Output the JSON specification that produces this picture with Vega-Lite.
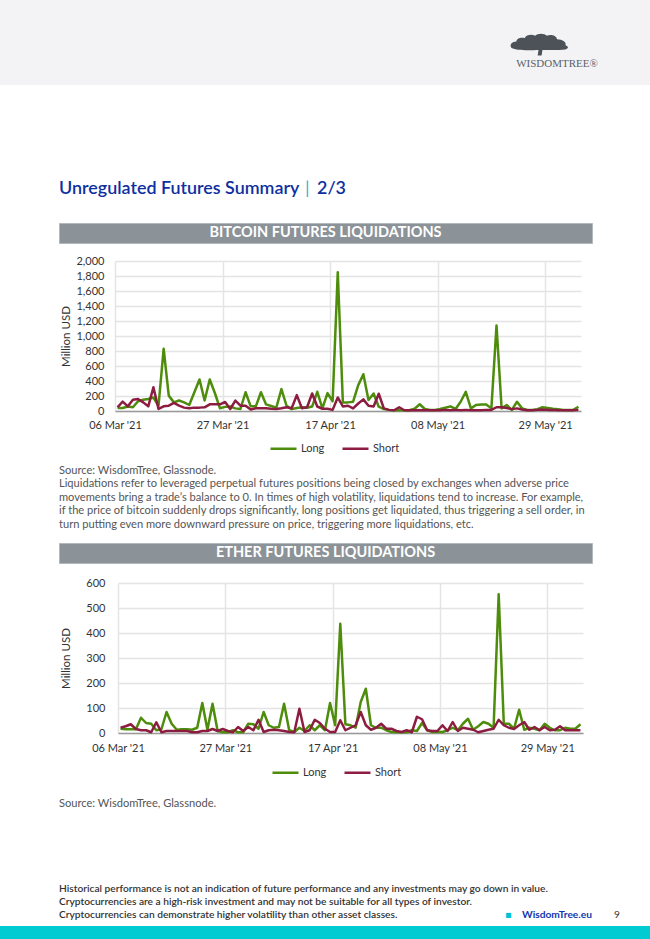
{
  "$schema": "https://vega.github.io/schema/vega-lite/v6.json",
  "padding": 0,
  "background": "#ffffff",
  "spacing": 0,
  "resolve": {"scale": {"color": "independent"}, "legend": {"color": "independent"}},
  "config": {
    "view": {"stroke": null},
    "font": "Lato",
    "title": {"font": "Lato", "offset": 0, "anchor": "start", "frame": "group"},
    "axis": {"labelFont": "Lato", "titleFont": "Lato"},
    "legend": {"labelFont": "Lato"},
    "concat": {"spacing": 0},
    "text": {"font": "Lato"}
  },
  "datasets": {
    "none": [],
    "btc": [
      {"date":"2021-03-06","Long":40,"Short":50},{"date":"2021-03-07","Long":40,"Short":125},{"date":"2021-03-08","Long":60,"Short":62},{"date":"2021-03-09","Long":50,"Short":150},{"date":"2021-03-10","Long":130,"Short":160},{"date":"2021-03-11","Long":150,"Short":115},{"date":"2021-03-12","Long":160,"Short":62},{"date":"2021-03-13","Long":180,"Short":316},{"date":"2021-03-14","Long":70,"Short":27},{"date":"2021-03-15","Long":830,"Short":62},
      {"date":"2021-03-16","Long":205,"Short":71},{"date":"2021-03-17","Long":115,"Short":107},{"date":"2021-03-18","Long":140,"Short":71},{"date":"2021-03-19","Long":115,"Short":45},{"date":"2021-03-20","Long":80,"Short":36},{"date":"2021-03-21","Long":250,"Short":45},{"date":"2021-03-22","Long":420,"Short":45},{"date":"2021-03-23","Long":140,"Short":49},{"date":"2021-03-24","Long":420,"Short":89},{"date":"2021-03-25","Long":240,"Short":89},
      {"date":"2021-03-26","Long":36,"Short":89},{"date":"2021-03-27","Long":55,"Short":120},{"date":"2021-03-28","Long":60,"Short":27},{"date":"2021-03-29","Long":35,"Short":138},{"date":"2021-03-30","Long":27,"Short":71},{"date":"2021-03-31","Long":250,"Short":71},{"date":"2021-04-01","Long":62,"Short":20},{"date":"2021-04-02","Long":62,"Short":36},{"date":"2021-04-03","Long":250,"Short":36},{"date":"2021-04-04","Long":88,"Short":36},
      {"date":"2021-04-05","Long":66,"Short":30},{"date":"2021-04-06","Long":44,"Short":27},{"date":"2021-04-07","Long":292,"Short":36},{"date":"2021-04-08","Long":70,"Short":50},{"date":"2021-04-09","Long":25,"Short":36},{"date":"2021-04-10","Long":40,"Short":212},{"date":"2021-04-11","Long":50,"Short":36},{"date":"2021-04-12","Long":44,"Short":50},{"date":"2021-04-13","Long":60,"Short":234},{"date":"2021-04-14","Long":256,"Short":60},
      {"date":"2021-04-15","Long":35,"Short":30},{"date":"2021-04-16","Long":239,"Short":30},{"date":"2021-04-17","Long":130,"Short":15},{"date":"2021-04-18","Long":1850,"Short":181},{"date":"2021-04-19","Long":115,"Short":60},{"date":"2021-04-20","Long":115,"Short":70},{"date":"2021-04-21","Long":124,"Short":35},{"date":"2021-04-22","Long":345,"Short":100},{"date":"2021-04-23","Long":490,"Short":155},{"date":"2021-04-24","Long":146,"Short":70},
      {"date":"2021-04-25","Long":234,"Short":60},{"date":"2021-04-26","Long":57,"Short":230},{"date":"2021-04-27","Long":25,"Short":35},{"date":"2021-04-28","Long":15,"Short":15},{"date":"2021-04-29","Long":10,"Short":10},{"date":"2021-04-30","Long":10,"Short":50},{"date":"2021-05-01","Long":10,"Short":10},{"date":"2021-05-02","Long":10,"Short":10},{"date":"2021-05-03","Long":30,"Short":10},{"date":"2021-05-04","Long":90,"Short":10},
      {"date":"2021-05-05","Long":27,"Short":10},{"date":"2021-05-06","Long":13,"Short":10},{"date":"2021-05-07","Long":13,"Short":10},{"date":"2021-05-08","Long":27,"Short":10},{"date":"2021-05-09","Long":44,"Short":15},{"date":"2021-05-10","Long":62,"Short":10},{"date":"2021-05-11","Long":27,"Short":15},{"date":"2021-05-12","Long":124,"Short":10},{"date":"2021-05-13","Long":256,"Short":15},{"date":"2021-05-14","Long":35,"Short":10},
      {"date":"2021-05-15","Long":80,"Short":10},{"date":"2021-05-16","Long":88,"Short":10},{"date":"2021-05-17","Long":88,"Short":15},{"date":"2021-05-18","Long":35,"Short":15},{"date":"2021-05-19","Long":1140,"Short":50},{"date":"2021-05-20","Long":35,"Short":50},{"date":"2021-05-21","Long":80,"Short":40},{"date":"2021-05-22","Long":13,"Short":25},{"date":"2021-05-23","Long":124,"Short":35},{"date":"2021-05-24","Long":35,"Short":20},
      {"date":"2021-05-25","Long":13,"Short":10},{"date":"2021-05-26","Long":13,"Short":10},{"date":"2021-05-27","Long":25,"Short":15},{"date":"2021-05-28","Long":50,"Short":20},{"date":"2021-05-29","Long":40,"Short":15},{"date":"2021-05-30","Long":30,"Short":15},{"date":"2021-05-31","Long":25,"Short":10},{"date":"2021-06-01","Long":15,"Short":10},{"date":"2021-06-02","Long":15,"Short":10},{"date":"2021-06-03","Long":15,"Short":10},
      {"date":"2021-06-04","Long":57,"Short":15}
    ],
    "eth": [
      {"date":"2021-03-06","Long":17,"Short":21},{"date":"2021-03-07","Long":15,"Short":27},{"date":"2021-03-08","Long":15,"Short":35},{"date":"2021-03-09","Long":15,"Short":16},{"date":"2021-03-10","Long":61,"Short":11},{"date":"2021-03-11","Long":40,"Short":11},{"date":"2021-03-12","Long":37,"Short":3},{"date":"2021-03-13","Long":11,"Short":43},{"date":"2021-03-14","Long":15,"Short":3},{"date":"2021-03-15","Long":84,"Short":8},
      {"date":"2021-03-16","Long":37,"Short":8},{"date":"2021-03-17","Long":13,"Short":8},{"date":"2021-03-18","Long":15,"Short":8},{"date":"2021-03-19","Long":15,"Short":8},{"date":"2021-03-20","Long":13,"Short":3},{"date":"2021-03-21","Long":21,"Short":3},{"date":"2021-03-22","Long":120,"Short":8},{"date":"2021-03-23","Long":13,"Short":8},{"date":"2021-03-24","Long":117,"Short":16},{"date":"2021-03-25","Long":8,"Short":8},
      {"date":"2021-03-26","Long":3,"Short":16},{"date":"2021-03-27","Long":3,"Short":8},{"date":"2021-03-28","Long":11,"Short":3},{"date":"2021-03-29","Long":3,"Short":24},{"date":"2021-03-30","Long":3,"Short":8},{"date":"2021-03-31","Long":37,"Short":24},{"date":"2021-04-01","Long":35,"Short":11},{"date":"2021-04-02","Long":17,"Short":53},{"date":"2021-04-03","Long":84,"Short":4},{"date":"2021-04-04","Long":31,"Short":11},
      {"date":"2021-04-05","Long":21,"Short":13},{"date":"2021-04-06","Long":24,"Short":11},{"date":"2021-04-07","Long":117,"Short":8},{"date":"2021-04-08","Long":11,"Short":4},{"date":"2021-04-09","Long":4,"Short":3},{"date":"2021-04-10","Long":21,"Short":97},{"date":"2021-04-11","Long":8,"Short":4},{"date":"2021-04-12","Long":31,"Short":11},{"date":"2021-04-13","Long":11,"Short":53},{"date":"2021-04-14","Long":31,"Short":40},
      {"date":"2021-04-15","Long":11,"Short":17},{"date":"2021-04-16","Long":120,"Short":4},{"date":"2021-04-17","Long":31,"Short":4},{"date":"2021-04-18","Long":437,"Short":51},{"date":"2021-04-19","Long":35,"Short":11},{"date":"2021-04-20","Long":31,"Short":21},{"date":"2021-04-21","Long":21,"Short":31},{"date":"2021-04-22","Long":124,"Short":84},{"date":"2021-04-23","Long":177,"Short":31},{"date":"2021-04-24","Long":31,"Short":13},
      {"date":"2021-04-25","Long":21,"Short":21},{"date":"2021-04-26","Long":21,"Short":37},{"date":"2021-04-27","Long":11,"Short":17},{"date":"2021-04-28","Long":4,"Short":17},{"date":"2021-04-29","Long":3,"Short":8},{"date":"2021-04-30","Long":3,"Short":4},{"date":"2021-05-01","Long":3,"Short":11},{"date":"2021-05-02","Long":11,"Short":3},{"date":"2021-05-03","Long":8,"Short":65},{"date":"2021-05-04","Long":40,"Short":55},
      {"date":"2021-05-05","Long":11,"Short":11},{"date":"2021-05-06","Long":4,"Short":8},{"date":"2021-05-07","Long":4,"Short":8},{"date":"2021-05-08","Long":4,"Short":31},{"date":"2021-05-09","Long":11,"Short":8},{"date":"2021-05-10","Long":21,"Short":44},{"date":"2021-05-11","Long":11,"Short":8},{"date":"2021-05-12","Long":37,"Short":21},{"date":"2021-05-13","Long":57,"Short":17},{"date":"2021-05-14","Long":13,"Short":13},
      {"date":"2021-05-15","Long":27,"Short":3},{"date":"2021-05-16","Long":44,"Short":8},{"date":"2021-05-17","Long":37,"Short":13},{"date":"2021-05-18","Long":21,"Short":17},{"date":"2021-05-19","Long":555,"Short":53},{"date":"2021-05-20","Long":37,"Short":31},{"date":"2021-05-21","Long":37,"Short":21},{"date":"2021-05-22","Long":17,"Short":16},{"date":"2021-05-23","Long":93,"Short":31},{"date":"2021-05-24","Long":13,"Short":44},
      {"date":"2021-05-25","Long":21,"Short":13},{"date":"2021-05-26","Long":17,"Short":24},{"date":"2021-05-27","Long":11,"Short":11},{"date":"2021-05-28","Long":37,"Short":24},{"date":"2021-05-29","Long":21,"Short":11},{"date":"2021-05-30","Long":11,"Short":13},{"date":"2021-05-31","Long":11,"Short":27},{"date":"2021-06-01","Long":21,"Short":11},{"date":"2021-06-02","Long":17,"Short":11},{"date":"2021-06-03","Long":17,"Short":11},
      {"date":"2021-06-04","Long":35,"Short":11}
    ]
  },
  "vconcat": [
    {
      "spacing": 0,
      "hconcat": [
        {"width": 490, "height": 85, "view": {"fill": "#f3f3f5", "stroke": null}, "data": {"name": "none"}, "mark": "point"},
        {"width": 134, "height": 85, "view": {"fill": "#f3f3f5", "stroke": null},
         "data": {"values": [{"logo": "tree"}]},
         "mark": {"type": "point", "shape": "M-1.62,0.2 C-1.72,0.08 -1.6,-0.04 -1.45,-0.04 C-1.45,-0.14 -1.3,-0.2 -1.15,-0.16 C-1.1,-0.28 -0.9,-0.3 -0.78,-0.24 C-0.7,-0.34 -0.45,-0.34 -0.36,-0.24 C-0.22,-0.3 -0.02,-0.24 0.0,-0.12 C0.2,-0.12 0.36,0.0 0.3,0.1 C0.42,0.14 0.42,0.22 0.3,0.25 C0.1,0.28 -0.3,0.27 -0.52,0.27 L-0.55,0.46 L-0.69,0.46 L-0.66,0.27 C-0.95,0.28 -1.45,0.3 -1.62,0.2 Z", "filled": true, "color": "#4c5258", "opacity": 1, "size": 3136, "strokeWidth": 0},
         "title": {"text": "WISDOMTREE®", "orient": "bottom", "anchor": "middle", "offset": -27, "fontSize": 11, "font": "Liberation Serif", "fontWeight": "normal", "color": "#5b6168"}},
        {"width": 26, "height": 85, "view": {"fill": "#f3f3f5", "stroke": null}, "data": {"name": "none"}, "mark": "point"}
      ]
    },
    {
      "spacing": 0,
      "hconcat": [
        {"width": 58, "height": 1, "data": {"name": "none"}, "mark": "point"},
        {
          "spacing": 0,
          "resolve": {"scale": {"color": "independent"}, "legend": {"color": "independent"}},
          "vconcat": [
            {"width": 1, "height": 95, "data": {"name": "none"}, "mark": "point"},
            {
              "spacing": 0,
              "hconcat": [
                {"width": 246, "height": 1, "data": {"name": "none"}, "mark": "point", "title": {"text": "Unregulated Futures Summary", "fontSize": 17.9, "fontWeight": 600, "color": "#0e2f9f"}},
                {"width": 12, "height": 1, "data": {"name": "none"}, "mark": "point", "title": {"text": "|", "fontSize": 17.9, "fontWeight": "normal", "color": "#00c2d4"}},
                {"width": 34, "height": 1, "data": {"name": "none"}, "mark": "point", "title": {"text": "2/3", "fontSize": 17.9, "fontWeight": 600, "color": "#0e2f9f"}}
              ]
            },
            {"width": 1, "height": 19, "data": {"name": "none"}, "mark": "point"},
            {"width": 533, "height": 20, "view": {"fill": "#8b9298", "stroke": "#b2b7bb", "strokeWidth": 1},
             "data": {"values": [{"label": "BITCOIN FUTURES LIQUIDATIONS"}]},
             "mark": {"type": "text", "color": "#ffffff", "fontSize": 14.5, "fontWeight": "bold", "font": "Lato"},
             "encoding": {"text": {"field": "label", "type": "nominal"}}},
            {"width": 1, "height": 11, "data": {"name": "none"}, "mark": "point"},
            {
              "spacing": 0,
              "resolve": {"scale": {"color": "independent"}, "legend": {"color": "independent"}},
              "hconcat": [
                {"width": 1, "height": 1, "data": {"name": "none"}, "mark": "point"},
                {
                  "width": 466, "height": 150,
                  "data": {"name": "btc"},
                  "transform": [{"fold": ["Long", "Short"], "as": ["series", "value"]}],
                  "mark": {"type": "line", "strokeWidth": 2.5, "strokeJoin": "round"},
                  "encoding": {
                    "x": {"field": "date", "type": "temporal",
                      "scale": {"type": "utc", "domain": [{"year": 2021, "month": 3, "date": 5, "hours": 12, "utc": true}, {"year": 2021, "month": 6, "date": 4, "hours": 12, "utc": true}]},
                      "axis": {"values": [{"year": 2021, "month": 3, "date": 5, "hours": 12, "utc": true}, {"year": 2021, "month": 3, "date": 26, "hours": 12, "utc": true}, {"year": 2021, "month": 4, "date": 16, "hours": 12, "utc": true}, {"year": 2021, "month": 5, "date": 7, "hours": 12, "utc": true}, {"year": 2021, "month": 5, "date": 28, "hours": 12, "utc": true}],
                        "labelExpr": "utcFormat(time(datum.value) + 43200000, \"%d %b '%y\")",
                        "title": null, "grid": true, "gridColor": "#e4e4e4", "gridWidth": 1.5, "domainColor": "#9a9a9a", "domainWidth": 1.5, "ticks": false, "tickSize": 0, "labelPadding": 8, "labelFontSize": 11, "labelColor": "#333333", "labelFlush": false, "labelOverlap": false}},
                    "y": {"field": "value", "type": "quantitative",
                      "scale": {"domain": [0, 2000], "nice": false},
                      "axis": {"values": [0, 200, 400, 600, 800, 1000, 1200, 1400, 1600, 1800, 2000], "format": ",.0f", "title": "Million USD", "titleFontSize": 11.5, "titleFontWeight": "normal", "titleColor": "#333333", "titlePadding": 4.5, "labelPadding": 11, "labelFontSize": 11, "labelColor": "#333333", "domain": false, "ticks": false, "tickSize": 0, "gridColor": "#e4e4e4", "gridWidth": 1.5}},
                    "color": {"field": "series", "type": "nominal",
                      "scale": {"domain": ["Long", "Short"], "range": ["#4e8c0c", "#8c1d40"]},
                      "legend": {"orient": "none", "legendX": 154, "legendY": 173, "direction": "horizontal", "title": null, "symbolType": "stroke", "symbolStrokeWidth": 2.5, "symbolSize": 676, "labelFontSize": 11, "labelColor": "#333333", "columnPadding": 12, "labelOffset": 3}}
                  }
                }
              ]
            },
            {"width": 1, "height": 10, "data": {"name": "none"}, "mark": "point"},
            {"width": 533, "height": 1, "data": {"name": "none"}, "mark": "point",
             "title": {"text": ["Source: WisdomTree, Glassnode.", "Liquidations refer to leveraged perpetual futures positions being closed by exchanges when adverse price", "movements bring a trade’s balance to 0. In times of high volatility, liquidations tend to increase. For example,", "if the price of bitcoin suddenly drops significantly, long positions get liquidated, thus triggering a sell order, in", "turn putting even more downward pressure on price, triggering more liquidations, etc."], "fontSize": 11.1, "fontWeight": "normal", "color": "#555555", "lineHeight": 13.6}},
            {"width": 1, "height": 7, "data": {"name": "none"}, "mark": "point"},
            {"width": 533, "height": 20, "view": {"fill": "#8b9298", "stroke": "#b2b7bb", "strokeWidth": 1},
             "data": {"values": [{"label": "ETHER FUTURES LIQUIDATIONS"}]},
             "mark": {"type": "text", "color": "#ffffff", "fontSize": 14.5, "fontWeight": "bold", "font": "Lato"},
             "encoding": {"text": {"field": "label", "type": "nominal"}}},
            {"width": 1, "height": 13, "data": {"name": "none"}, "mark": "point"},
            {
              "spacing": 0,
              "resolve": {"scale": {"color": "independent"}, "legend": {"color": "independent"}},
              "hconcat": [
                {"width": 1, "height": 1, "data": {"name": "none"}, "mark": "point"},
                {
                  "width": 465, "height": 150,
                  "data": {"name": "eth"},
                  "transform": [{"fold": ["Long", "Short"], "as": ["series", "value"]}],
                  "mark": {"type": "line", "strokeWidth": 2.5, "strokeJoin": "round"},
                  "encoding": {
                    "x": {"field": "date", "type": "temporal",
                      "scale": {"type": "utc", "domain": [{"year": 2021, "month": 3, "date": 5, "hours": 12, "utc": true}, {"year": 2021, "month": 6, "date": 4, "hours": 12, "utc": true}]},
                      "axis": {"values": [{"year": 2021, "month": 3, "date": 5, "hours": 12, "utc": true}, {"year": 2021, "month": 3, "date": 26, "hours": 12, "utc": true}, {"year": 2021, "month": 4, "date": 16, "hours": 12, "utc": true}, {"year": 2021, "month": 5, "date": 7, "hours": 12, "utc": true}, {"year": 2021, "month": 5, "date": 28, "hours": 12, "utc": true}],
                        "labelExpr": "utcFormat(time(datum.value) + 43200000, \"%d %b '%y\")",
                        "title": null, "grid": true, "gridColor": "#e4e4e4", "gridWidth": 1.5, "domainColor": "#9a9a9a", "domainWidth": 1.5, "ticks": false, "tickSize": 0, "labelPadding": 9, "labelFontSize": 11, "labelColor": "#333333", "labelFlush": false, "labelOverlap": false}},
                    "y": {"field": "value", "type": "quantitative",
                      "scale": {"domain": [0, 600], "nice": false},
                      "axis": {"values": [0, 100, 200, 300, 400, 500, 600], "format": ".0f", "title": "Million USD", "titleFontSize": 11.5, "titleFontWeight": "normal", "titleColor": "#333333", "titlePadding": 14, "labelPadding": 13, "labelFontSize": 11, "labelColor": "#333333", "domain": false, "ticks": false, "tickSize": 0, "gridColor": "#e4e4e4", "gridWidth": 1.5}},
                    "color": {"field": "series", "type": "nominal",
                      "scale": {"domain": ["Long", "Short"], "range": ["#4e8c0c", "#8c1d40"]},
                      "legend": {"orient": "none", "legendX": 153, "legendY": 175, "direction": "horizontal", "title": null, "symbolType": "stroke", "symbolStrokeWidth": 2.5, "symbolSize": 676, "labelFontSize": 11, "labelColor": "#333333", "columnPadding": 12, "labelOffset": 3}}
                  }
                }
              ]
            },
            {"width": 1, "height": 19, "data": {"name": "none"}, "mark": "point"},
            {"width": 533, "height": 1, "data": {"name": "none"}, "mark": "point",
             "title": {"text": "Source: WisdomTree, Glassnode.", "fontSize": 11.1, "fontWeight": "normal", "color": "#555555"}},
            {"width": 1, "height": 69, "data": {"name": "none"}, "mark": "point"},
            {
              "spacing": 0,
              "bounds": "flush",
              "hconcat": [
                {"width": 446, "height": 1, "data": {"name": "none"}, "mark": "point", "title": {"text": ["Historical performance is not an indication of future performance and any investments may go down in value.", "Cryptocurrencies are a high-risk investment and may not be suitable for all types of investor.", "Cryptocurrencies can demonstrate higher volatility than other asset classes."], "fontSize": 10.2, "fontWeight": 600, "color": "#333333", "lineHeight": 13}},
                {"width": 17, "height": 1, "data": {"name": "none"}, "mark": "point", "title": {"text": "▪", "font": "DejaVu Sans", "fontSize": 10.2, "fontWeight": "normal", "color": "#00c2d4"}},
                {"width": 92, "height": 1, "data": {"name": "none"}, "mark": "point", "title": {"text": "WisdomTree.eu", "fontSize": 10.2, "fontWeight": "bold", "color": "#1036b0"}},
                {"width": 10, "height": 1, "data": {"name": "none"}, "mark": "point", "title": {"text": "9", "fontSize": 10.2, "fontWeight": "normal", "color": "#333333"}}
              ]
            },
            {"width": 1, "height": 1, "data": {"name": "none"}, "mark": "point"}
          ]
        }
      ]
    },
    {"width": 650, "height": 13, "view": {"fill": "#00cbd3", "stroke": null}, "data": {"name": "none"}, "mark": "point"}
  ]
}
